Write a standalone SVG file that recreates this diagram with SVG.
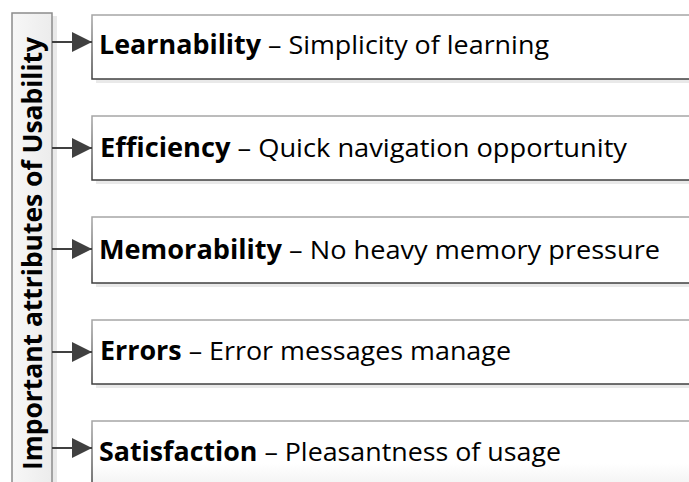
<svg xmlns="http://www.w3.org/2000/svg" width="689" height="482" viewBox="0 0 689 482">
<defs>
<linearGradient id="barFill" x1="0" y1="0" x2="1" y2="0">
<stop offset="0" stop-color="#f7f7f7"/>
<stop offset="1" stop-color="#ececec"/>
</linearGradient>
<linearGradient id="boxStroke" x1="0" y1="0" x2="0" y2="1">
<stop offset="0" stop-color="#a6a6a6"/>
<stop offset="1" stop-color="#3f3f3f"/>
</linearGradient>
<linearGradient id="fade" x1="0" y1="0" x2="0" y2="1">
<stop offset="0.6" stop-color="#ffffff"/>
<stop offset="1" stop-color="#f0f0f0"/>
</linearGradient>
<marker id="arr" viewBox="0 0 20 20" refX="20" refY="10" markerWidth="20" markerHeight="20" markerUnits="userSpaceOnUse" orient="auto">
<path d="M0,0 L20,10 L0,20 Z" fill="#404040"/>
</marker>
</defs>
<style>
.box{fill:#ffffff;stroke:url(#boxStroke);stroke-width:1.5}
.shadow{fill:#e9e9e9}
.t{font-family:"Open Sans","Liberation Sans",sans-serif;font-size:26px;fill:#000}
.b{font-weight:bold}
.conn line{stroke:#404040;stroke-width:2}
</style>
<rect width="689" height="482" fill="#ffffff"/>

<g id="attributes-bar">
<rect x="52" y="16" width="5" height="470" class="shadow"/>
<rect x="12" y="13" width="40" height="475" fill="url(#barFill)" stroke="#8c8c8c" stroke-width="1.5"/>
<text class="t b" font-size="28" transform="translate(42,470) rotate(-90)" textLength="433" lengthAdjust="spacingAndGlyphs">Important attributes of Usability</text>
</g>

<g id="learnability">
<rect x="96" y="19" width="600" height="64" class="shadow"/>
<rect x="92" y="15" width="600" height="64" class="box"/>
<text class="t" x="99" y="54" textLength="450" lengthAdjust="spacingAndGlyphs"><tspan class="b">Learnability</tspan> – Simplicity of learning</text>
</g>

<g id="efficiency">
<rect x="96" y="120" width="600" height="64" class="shadow"/>
<rect x="92" y="116" width="600" height="64" class="box"/>
<text class="t" x="100" y="156.5" textLength="527" lengthAdjust="spacingAndGlyphs"><tspan class="b">Efficiency</tspan> – Quick navigation opportunity</text>
</g>

<g id="memorability">
<rect x="96" y="221" width="600" height="66" class="shadow"/>
<rect x="92" y="217" width="600" height="66" class="box"/>
<text class="t" x="99" y="259" textLength="561" lengthAdjust="spacingAndGlyphs"><tspan class="b">Memorability</tspan> – No heavy memory pressure</text>
</g>

<g id="errors">
<rect x="96" y="324" width="600" height="64" class="shadow"/>
<rect x="92" y="320" width="600" height="64" class="box"/>
<text class="t" x="100" y="360" textLength="411" lengthAdjust="spacingAndGlyphs"><tspan class="b">Errors</tspan> – Error messages manage</text>
</g>

<g id="satisfaction">
<rect x="92" y="421" width="600" height="70" fill="url(#fade)" stroke="url(#boxStroke)" stroke-width="1.5"/>
<text class="t" x="99" y="461" textLength="462" lengthAdjust="spacingAndGlyphs"><tspan class="b">Satisfaction</tspan> – Pleasantness of usage</text>
</g>

<g id="connectors" class="conn">
<line x1="52" y1="42" x2="92" y2="42" marker-end="url(#arr)"/>
<line x1="52" y1="148" x2="92" y2="148" marker-end="url(#arr)"/>
<line x1="52" y1="249" x2="92" y2="249" marker-end="url(#arr)"/>
<line x1="52" y1="352" x2="92" y2="352" marker-end="url(#arr)"/>
<line x1="52" y1="448" x2="92" y2="448" marker-end="url(#arr)"/>
</g>
</svg>
